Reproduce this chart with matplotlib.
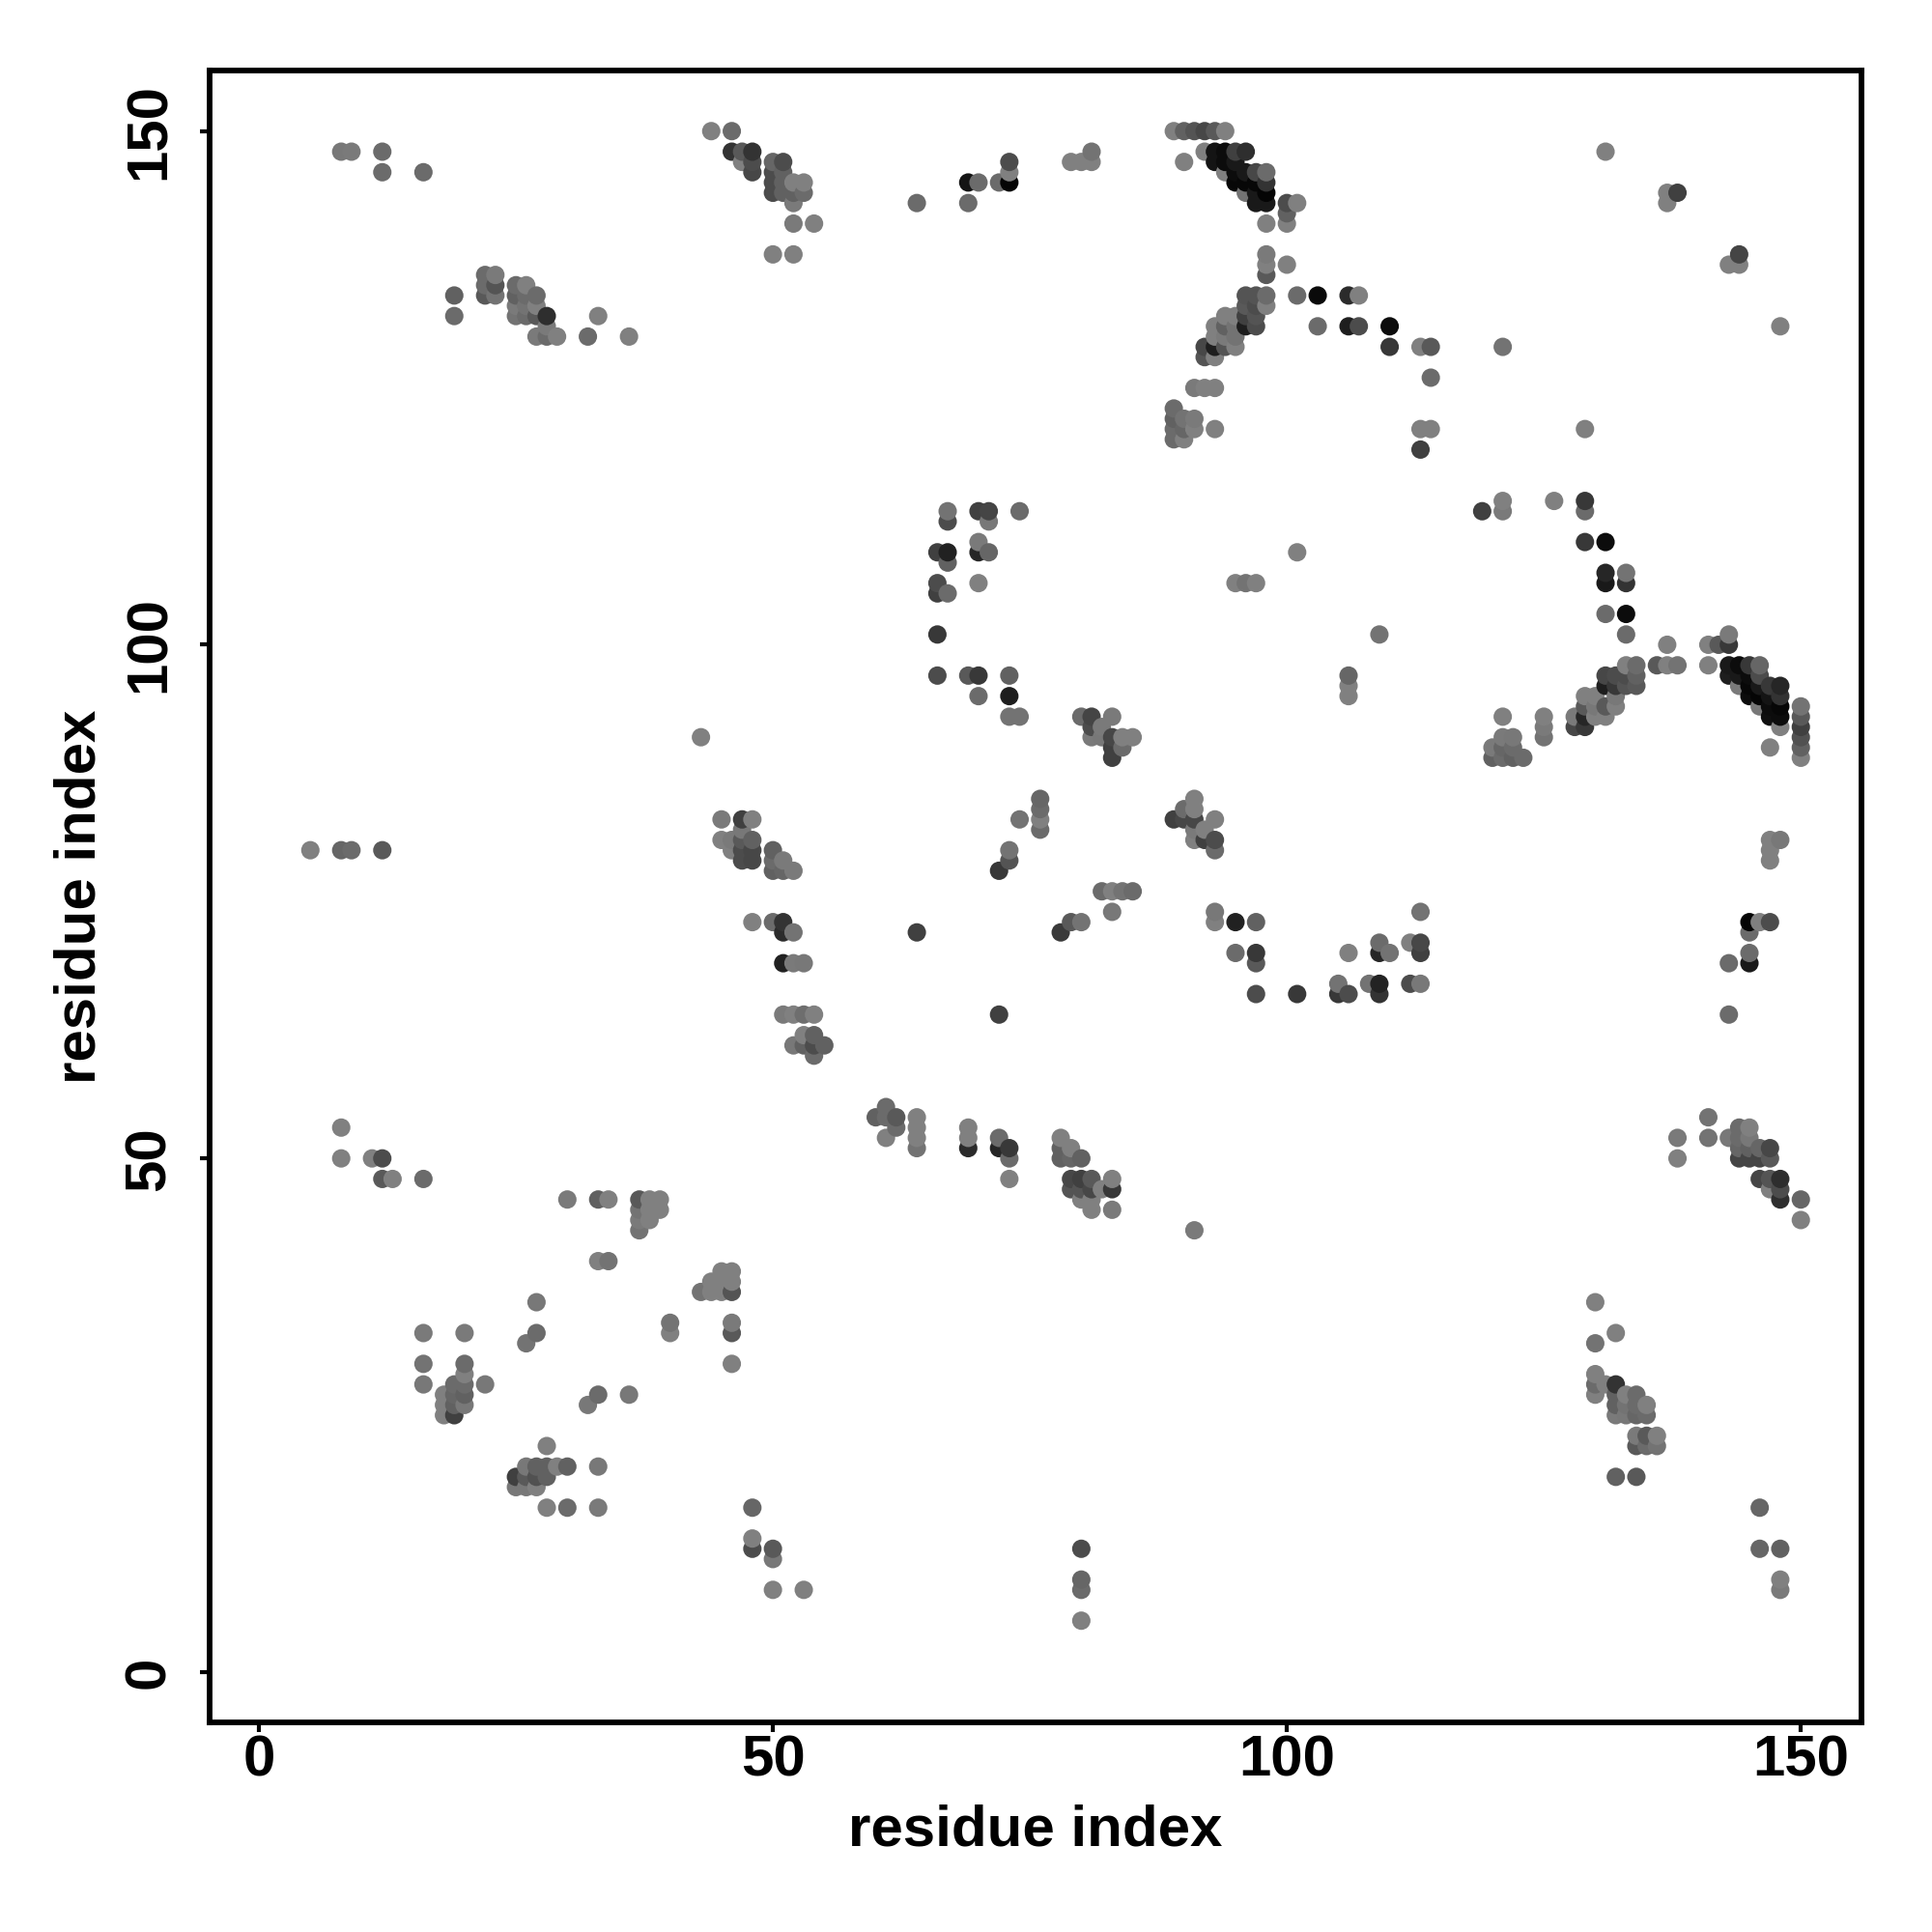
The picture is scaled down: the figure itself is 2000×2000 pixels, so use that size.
import numpy as np
import matplotlib
matplotlib.use("Agg")
import matplotlib.pyplot as plt

plt.rcParams['font.family'] = ['Liberation Sans', 'DejaVu Sans']

# contacts, one row per y value
row_y = [
    150, 148, 147, 146, 145, 144, 143, 142, 141, 138,
    137, 136, 135, 134, 133, 132, 131, 130, 129, 128,
    126, 125, 123, 122, 121, 120, 119, 114, 113, 112,
    110, 109, 108, 107, 106, 105, 103, 101, 100, 98,
    97, 96, 95, 94, 93, 92, 91, 90, 89, 85,
    84, 83, 82, 81, 80, 79, 78, 76, 74, 73,
    72, 71, 70, 69, 67, 66, 64, 62, 61, 60,
    55, 54, 53, 52, 51, 50, 48, 47, 46, 45,
    44, 43, 40, 39, 38, 37, 36, 34, 33, 32,
    30, 29, 28, 27, 26, 25, 23, 22, 20, 19,
    18, 16, 13, 12, 11, 9, 8, 5,
]
row_x = [
    [44, 46, 89, 90, 91, 92, 93, 94],
    [8, 9, 12, 46, 47, 48, 81, 92, 93, 94, 95, 96, 131],
    [47, 48, 50, 51, 73, 79, 80, 81, 90, 93, 94, 95],
    [12, 16, 48, 50, 51, 73, 94, 95, 96, 97, 98],
    [50, 51, 52, 53, 69, 70, 72, 73, 95, 96, 97, 98],
    [50, 51, 52, 53, 96, 97, 98, 137, 138],
    [52, 64, 69, 97, 98, 100, 101, 137],
    [100],
    [52, 54, 98, 100],
    [50, 52, 98, 144],
    [98, 100, 143, 144],
    [22, 23, 98],
    [22, 23, 25, 26],
    [19, 22, 23, 25, 26, 27, 96, 97, 98, 101, 103, 106, 107],
    [25, 26, 27, 96, 97, 98],
    [19, 25, 26, 27, 28, 33, 94, 95, 96, 97],
    [28, 93, 94, 95, 96, 97, 103, 106, 107, 110, 148],
    [27, 28, 29, 32, 36, 93, 94, 95],
    [92, 93, 94, 95, 110, 113, 114, 121],
    [92, 93],
    [114],
    [91, 92, 93],
    [89],
    [89, 90, 91],
    [89, 90, 91, 93, 113, 114, 129],
    [89, 90],
    [113],
    [121, 126, 129],
    [67, 70, 71, 74, 119, 121, 129],
    [67, 71],
    [70, 129, 131],
    [66, 67, 70, 71, 101],
    [67],
    [131, 133],
    [66, 70, 95, 96, 97, 131, 133],
    [66, 67],
    [131, 133],
    [66, 109, 133, 143],
    [137, 141, 142, 143],
    [133, 134, 136, 137, 138, 141, 143, 144, 145, 146],
    [66, 69, 70, 73, 106, 131, 132, 133, 134, 143, 144, 145, 146],
    [106, 131, 132, 133, 134, 144, 145, 146, 147, 148],
    [70, 73, 106, 129, 130, 132, 145, 146, 147, 148],
    [129, 130, 131, 132, 146, 147, 148, 150],
    [73, 74, 80, 81, 83, 121, 125, 128, 129, 130, 131, 147, 148, 150],
    [81, 82, 125, 128, 129, 148, 150],
    [43, 81, 82, 83, 84, 85, 121, 122, 125, 150],
    [83, 84, 120, 121, 122, 147, 150],
    [83, 120, 121, 122, 123, 150],
    [76, 91],
    [76, 90, 91],
    [45, 47, 48, 74, 76, 89, 90, 91, 93],
    [47, 76, 91, 92],
    [45, 46, 47, 48, 91, 92, 93, 147, 148],
    [5, 8, 9, 12, 46, 47, 48, 50, 73, 93, 147],
    [47, 48, 50, 51, 73, 147],
    [50, 51, 52, 72],
    [82, 83, 84, 85],
    [83, 93, 113],
    [48, 50, 51, 79, 80, 93, 95, 97, 145, 146, 147],
    [51, 52, 64, 78, 145],
    [109, 112, 113],
    [95, 97, 106, 109, 110, 113, 145],
    [51, 52, 53, 97, 143, 145],
    [105, 108, 109, 112, 113],
    [97, 101, 105, 106, 109],
    [51, 52, 53, 54, 72, 143],
    [53, 54],
    [52, 53, 54, 55],
    [54],
    [61],
    [60, 61, 62, 64, 141],
    [8, 62, 64, 69, 144, 145],
    [61, 64, 69, 72, 78, 138, 141, 143, 144, 145],
    [64, 69, 72, 73, 78, 79, 144, 145, 146, 147],
    [8, 11, 12, 73, 78, 79, 80, 138, 144, 145, 146, 147],
    [12, 13, 16, 73, 79, 80, 81, 83, 146, 147, 148],
    [79, 80, 81, 82, 83, 147, 148],
    [30, 33, 34, 37, 38, 39, 80, 81, 148, 150],
    [37, 38, 39, 81, 83],
    [37, 38, 150],
    [37, 91],
    [33, 34],
    [45, 46],
    [44, 45, 46],
    [43, 44, 45, 46],
    [27, 130],
    [40, 46],
    [16, 20, 27, 40, 46, 132],
    [26, 130],
    [16, 20, 46],
    [20, 130],
    [16, 19, 20, 22, 130, 131, 132],
    [18, 19, 20, 33, 36, 130, 132, 133, 134],
    [18, 19, 20, 32, 132, 133, 134, 135],
    [18, 19, 132, 133, 134, 135],
    [134, 135, 136],
    [28, 134, 135, 136],
    [26, 27, 28, 29, 30, 33],
    [25, 26, 27, 28, 132, 134],
    [25, 26, 27],
    [28, 30, 33, 48, 146],
    [48],
    [48, 50, 80, 146, 148],
    [50],
    [80, 148],
    [50, 53, 80, 148],
    [80],
]
row_shade = [
    [.5, .42, .5, .38, .33, .28, .35, .5],
    [.47, .48, .42, .2, .35, .2, .45, .5, .08, .05, .25, .18, .5],
    [.5, .3, .4, .3, .3, .5, .5, .5, .5, .08, .05, .1],
    [.42, .42, .28, .3, .38, .5, .5, .05, .1, .28, .42],
    [.3, .38, .5, .5, .08, .42, .42, .02, .03, .03, .03, .2],
    [.3, .38, .38, .42, .45, .1, .02, .5, .25],
    [.48, .42, .42, .1, .1, .3, .5, .5],
    [.38],
    [.48, .5, .5, .5],
    [.5, .5, .48, .27],
    [.5, .5, .5, .5],
    [.42, .48, .35],
    [.42, .33, .42, .5],
    [.38, .35, .45, .38, .42, .42, .33, .33, .42, .42, .04, .17, .5],
    [.48, .45, .5, .35, .3, .5],
    [.42, .45, .42, .35, .18, .5, .5, .5, .25, .33],
    [.48, .5, .38, .45, .12, .3, .42, .12, .3, .05, .5],
    [.48, .42, .5, .42, .5, .5, .48, .45],
    [.28, .12, .33, .5, .22, .5, .35, .45],
    [.33, .5],
    [.42],
    [.48, .5, .5],
    [.42],
    [.38, .45, .48],
    [.42, .4, .5, .5, .5, .5, .5],
    [.42, .5],
    [.25],
    [.5, .5, .22],
    [.45, .25, .27, .42, .25, .48, .42],
    [.3, .47],
    [.48, .22, .05],
    [.25, .13, .15, .4, .5],
    [.38],
    [.15, .45],
    [.3, .5, .5, .45, .5, .1, .2],
    [.25, .42],
    [.42, .05],
    [.22, .45, .42, .48],
    [.5, .5, .35, .22],
    [.5, .42, .35, .5, .45, .5, .1, .05, .22, .4],
    [.3, .35, .22, .38, .4, .28, .3, .3, .38, .12, .1, .05, .3],
    [.5, .12, .22, .33, .35, .48, .03, .1, .22, .15],
    [.42, .12, .5, .5, .5, .47, .05, .02, .08, .2],
    [.35, .47, .35, .5, .47, .05, .03, .45],
    [.45, .45, .42, .27, .48, .5, .5, .48, .15, .5, .5, .06, .05, .35],
    [.3, .48, .48, .28, .22, .5, .25],
    [.5, .48, .47, .28, .5, .5, .48, .47, .45, .32],
    [.25, .42, .48, .4, .42, .5, .38],
    [.25, .38, .42, .38, .42, .5],
    [.4, .5],
    [.42, .42, .5],
    [.48, .25, .5, .45, .5, .25, .28, .28, .5],
    [.47, .42, .48, .5],
    [.5, .48, .35, .38, .5, .25, .3, .5, .47],
    [.5, .4, .42, .35, .5, .3, .28, .38, .45, .42, .5],
    [.3, .28, .42, .48, .33, .5],
    [.38, .4, .48, .22],
    [.42, .5, .45, .42],
    [.47, .47, .45],
    [.5, .42, .2, .35, .45, .5, .13, .38, .02, .5, .3],
    [.17, .45, .25, .23, .42],
    [.42, .5, .28],
    [.42, .22, .5, .15, .45, .25, .42],
    [.13, .48, .47, .35, .42, .1],
    [.45, .45, .14, .3, .47],
    [.3, .22, .22, .3, .2],
    [.48, .5, .43, .5, .25, .42],
    [.5, .38],
    [.47, .38, .3, .38],
    [.42],
    [.42],
    [.38, .42, .35, .5, .45],
    [.5, .42, .5, .5, .42, .5],
    [.5, .5, .5, .42, .5, .48, .45, .47, .42, .47],
    [.45, .17, .15, .22, .38, .5, .4, .38, .4, .28],
    [.5, .5, .3, .42, .38, .4, .38, .5, .27, .27, .27, .35],
    [.35, .5, .42, .5, .28, .25, .35, .5, .27, .33, .18],
    [.33, .33, .28, .5, .22, .5, .3],
    [.48, .38, .5, .35, .5, .5, .5, .5, .18, .4],
    [.45, .5, .5, .5, .48],
    [.48, .5, .5],
    [.45, .48],
    [.5, .45],
    [.5, .5],
    [.5, .5, .5],
    [.45, .5, .5, .33],
    [.47, .5],
    [.45, .48],
    [.48, .48, .42, .5, .35, .5],
    [.45, .45],
    [.45, .42, .5],
    [.5, .5],
    [.47, .42, .42, .47, .42, .5, .2],
    [.5, .4, .38, .42, .47, .5, .38, .5, .42],
    [.5, .38, .47, .47, .38, .45, .42, .5],
    [.5, .25, .48, .47, .4, .42],
    [.48, .35, .5],
    [.5, .35, .42, .45],
    [.47, .38, .38, .5, .38, .47],
    [.25, .35, .32, .38, .38, .35],
    [.47, .47, .5],
    [.5, .42, .48, .4, .4],
    [.5],
    [.3, .35, .3, .4, .38],
    [.47],
    [.4, .5],
    [.5, .5, .42, .48],
    [.5],
]

# flatten, ordered by x then y so the overlaps stack like the original
xs, ys, shades = [], [], []
for y, xr, sr in zip(row_y, row_x, row_shade):
    assert len(xr) == len(sr), y
    for x, s in zip(xr, sr):
        xs.append(x)
        ys.append(y)
        shades.append(s)
assert len(row_y) == len(row_x) == len(row_shade)
xs = np.array(xs)
ys = np.array(ys)
shades = np.array(shades)
order = np.lexsort((ys, xs))

fig = plt.figure(figsize=(10, 10), dpi=200)
ax = fig.add_axes([217 / 2000, 1 - 1783 / 2000, (1927 - 217) / 2000, (1783 - 73) / 2000])
ax.scatter(xs[order], ys[order], s=47, c=shades[order], cmap="gray", vmin=0, vmax=1, linewidths=0, zorder=3)

ax.set_xlim(-4.8, 155.9)
ax.set_ylim(-4.9, 155.9)
ax.set_xticks([0, 50, 100, 150])
ax.set_yticks([0, 50, 100, 150])
ax.tick_params(axis="x", length=3.5, width=1.5, labelsize=21.6, pad=1)
ax.tick_params(axis="y", length=3.5, width=1.5, labelsize=21.6, pad=9)
for lab in ax.get_xticklabels() + ax.get_yticklabels():
    lab.set_fontweight("bold")
for lab in ax.get_yticklabels():
    lab.set_rotation(90)
    lab.set_va("center")
for sp in ax.spines.values():
    sp.set_linewidth(2.1)

ax.set_xlabel("residue index", fontsize=21.6, fontweight="bold", labelpad=6)
ax.set_ylabel("residue index", fontsize=21.6, fontweight="bold", labelpad=6)

fig.savefig("out.png", dpi=200)
